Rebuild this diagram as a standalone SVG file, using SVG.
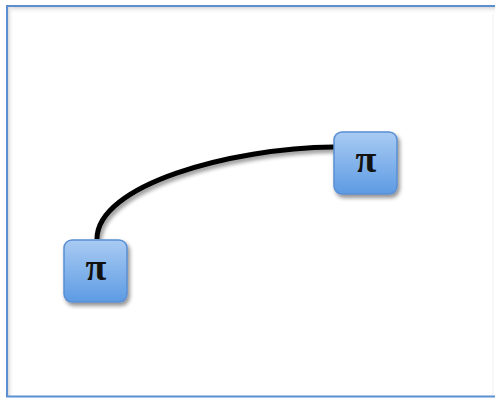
<svg xmlns="http://www.w3.org/2000/svg" width="495" height="398" viewBox="0 0 495 398">
<defs>
<linearGradient id="nodeGrad" x1="0" y1="0" x2="0" y2="1">
<stop offset="0" stop-color="#a9cbf3"/>
<stop offset="1" stop-color="#5d9be3"/>
</linearGradient>
<linearGradient id="topShade" x1="0" y1="0" x2="0" y2="1">
<stop offset="0" stop-color="#d8d8d8"/>
<stop offset="1" stop-color="#ffffff" stop-opacity="0"/>
</linearGradient>
<linearGradient id="leftShade" x1="0" y1="0" x2="1" y2="0">
<stop offset="0" stop-color="#d8d8d8"/>
<stop offset="1" stop-color="#ffffff" stop-opacity="0"/>
</linearGradient>
<filter id="shadow" x="-30%" y="-30%" width="160%" height="160%">
<feGaussianBlur in="SourceAlpha" stdDeviation="2"/>
<feOffset dx="2" dy="3" result="b"/>
<feComponentTransfer><feFuncA type="linear" slope="0.45"/></feComponentTransfer>
<feMerge><feMergeNode/><feMergeNode in="SourceGraphic"/></feMerge>
</filter>
</defs>
<style>
.node rect{fill:url(#nodeGrad);stroke:#5a8ed2;stroke-width:1.5;filter:url(#shadow)}
.node text{font-family:"Liberation Serif","DejaVu Serif",serif;font-size:38px;font-weight:bold;fill:#111;text-anchor:middle}
.edge{fill:none;stroke:#000;stroke-width:5;stroke-linecap:butt;filter:url(#shadow)}
</style>
<rect x="0" y="0" width="495" height="398" fill="#ffffff"/>
<g id="frame">
<rect x="8" y="7" width="487" height="7" fill="url(#topShade)"/>
<rect x="8" y="7" width="6" height="389" fill="url(#leftShade)"/>
<line x1="493" y1="14" x2="493" y2="396" stroke="#eeeeee" stroke-width="1"/>
<path d="M496,6 H7 V396.5 H496" fill="none" stroke="#5b8fd0" stroke-width="2"/>
</g>
<g id="connectors">
<path class="edge" d="M97,239 C97,185 230,148 334,147"/>
</g>
<g id="node1" class="node">
<rect x="64" y="240" width="63" height="62" rx="8" ry="8"/>
<text x="96" y="280">π</text>
</g>
<g id="node2" class="node">
<rect x="334" y="132" width="63" height="62" rx="8" ry="8"/>
<text x="366" y="172">π</text>
</g>
</svg>
